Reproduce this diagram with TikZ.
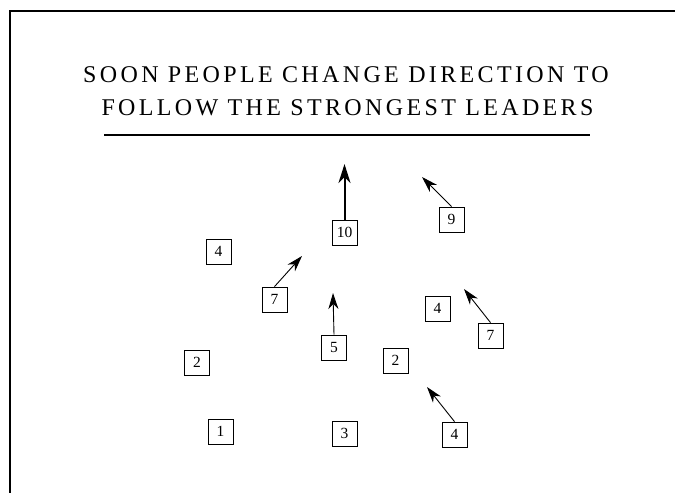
\documentclass[tikz,border=0pt]{standalone}
\usepackage{fontspec}
\setmainfont{Liberation Serif}
\newfontfamily\titlefont[LetterSpace=14]{Liberation Serif}
\usetikzlibrary{arrows.meta}
\begin{document}
\begin{tikzpicture}[x=1pt,y=-1pt,
  numbox/.style={draw,line width=0.8pt,minimum size=25pt,inner sep=0pt,font=\fontsize{15.5}{15.5}\selectfont},
  move/.style={line width=0.9pt,-{Stealth[length=16pt,width=10pt,inset=5pt]}},
  bigmove/.style={line width=2pt,-{Stealth[length=19pt,width=12pt,inset=6pt]}},
  titletext/.style={anchor=base,inner sep=0pt,font=\titlefont\fontsize{24}{28}\selectfont}]
\useasboundingbox (0,0) rectangle (675,493);
% frame
\draw[line width=1.3pt] (675,11) -- (10,11) -- (10,493);
% title
\node[titletext] (t1) at (346,82) {SOON PEOPLE CHANGE DIRECTION TO};
\node[titletext] (t2) at (347.5,115) {FOLLOW THE STRONGEST LEADERS};
\draw[line width=1.2pt] (104,135) -- (590,135);
% boxes
\node[numbox] (b10) at (344.5,232.5) {10};
\node[numbox] (b9) at (451.5,219.5) {9};
\node[numbox] (b4a) at (218.5,251.5) {4};
\node[numbox] (b7a) at (274.5,299.5) {7};
\node[numbox] (b4b) at (437.5,308.5) {4};
\node[numbox] (b7b) at (490.5,335.5) {7};
\node[numbox] (b5) at (334,347.5) {5};
\node[numbox] (b2a) at (197,362.5) {2};
\node[numbox] (b2b) at (395.5,360.5) {2};
\node[numbox] (b1) at (220.5,431.5) {1};
\node[numbox] (b3) at (344.5,433.5) {3};
\node[numbox] (b4c) at (454.5,434.5) {4};
% arrow tips
\coordinate (p10) at (344.5,164);
\coordinate (p9) at (422,177);
\coordinate (p7a) at (302,256);
\coordinate (p5) at (333,293);
\coordinate (p7b) at (464,289);
\coordinate (p4c) at (427,387);
% arrows
\draw[bigmove] (b10.north) -- (p10);
\draw[move] (b9.north) -- (p9);
\draw[move] (b7a.north) -- (p7a);
\draw[move] (b5.north) -- (p5);
\draw[move] (b7b.north) -- (p7b);
\draw[move] (b4c.north) -- (p4c);
\end{tikzpicture}
\end{document}
